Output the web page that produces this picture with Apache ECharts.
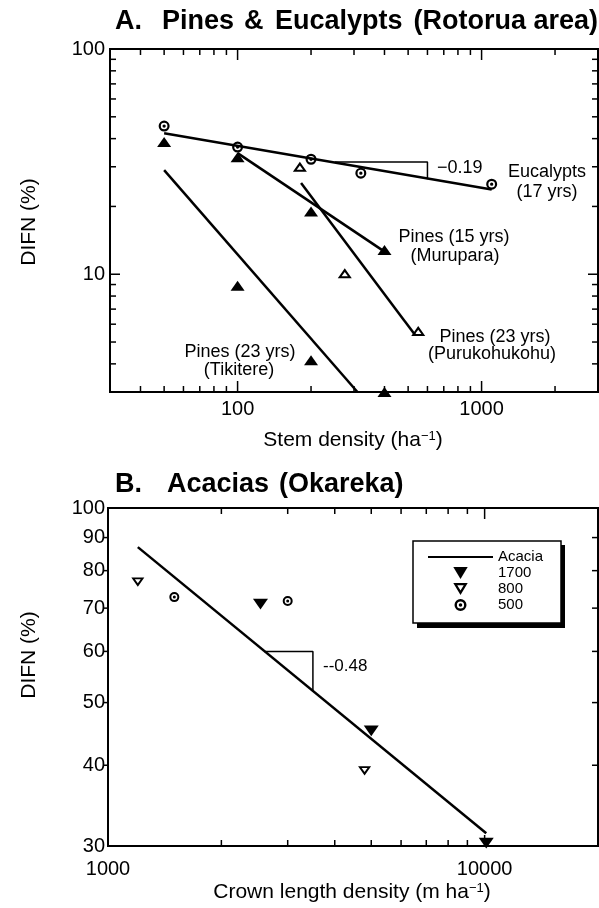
<!DOCTYPE html>
<html>
<head>
<meta charset="utf-8">
<script src="https://cdn.jsdelivr.net/npm/echarts@6/dist/echarts.min.js"></script>
<style>
  html, body { margin: 0; padding: 0; background: #fff; }
  #chart { width: 599px; height: 908px; }
</style>
</head>
<body>
<div id="chart"></div>
<script>
// ---------- Panel A: DIFN vs stem density (log–log) ----------
const eucalyptPts   = [[50, 45.5], [100, 36.7], [200, 32.4], [320, 28.1], [1100, 25.1]];
const eucalyptFit   = [[50, 42.3], [1100, 23.8]];
const eucalyptSlope = [[250, 31.5], [600, 31.5], [600, 26.4]];

const murupara15Pts = [[100, 33.1], [200, 19.0], [400, 12.8]];
const murupara15Fit = [[100, 34.5], [400, 12.6]];

const puruPts = [[180, 30.0], [275, 10.1], [550, 5.6]];
const puruFit = [[182, 25.4], [535, 5.36]];

const tikiterePts = [[50, 38.6], [100, 8.9], [200, 4.15], [400, 3.0]];
const tikitereFit = [[50, 29.0], [310, 3.0]];

const xRangeA = [30, 3000];
const yRangeA = [3, 100];
const xTicksA = [40, 50, 60, 70, 80, 90, 100, 200, 300, 400, 500, 600, 700, 800, 900, 1000, 2000];
const yTicksA = [4, 5, 6, 7, 8, 9, 10, 20, 30, 40, 50, 60, 70, 80, 90];
const xLabelsA = [100, 1000];
const yLabelsA = [10, 100];

// ---------- Panel B: DIFN vs crown length density ----------
const acacia1700 = [[2540, 71.0], [5000, 45.2], [10100, 30.3]];
const acacia800  = [[1200, 76.8], [4800, 39.2]];
const acacia500  = [[1500, 72.8], [3000, 71.8]];
const acaciaFit  = [[1200, 87.0], [10100, 31.4]];
const acaciaSlope = [[2600, 60], [3500, 60], [3500, 52.0]];

const xRangeB = [1000, 20000];
const yRangeB = [30, 100];
const xTicksB = [2000, 3000, 4000, 5000, 6000, 7000, 8000, 9000, 10000];
const yTicksB = [40, 50, 60, 70, 80, 90];
const xLabelsB = [1000, 10000];
const yLabelsB = [30, 40, 50, 60, 70, 80, 90, 100];

const majorTicks = [10, 100, 1000, 10000];

// ---------- styling helpers ----------
const FONT = '"Liberation Sans", Arial, Helvetica, sans-serif';
const TICK = { stroke: '#000', lineWidth: 1.5 };

const SYM_UP      = 'path://M0,10L6,0L12,10Z';
const SYM_UP_OPEN = 'path://M0,10L6,0L12,10ZM3.3,8.1L8.7,8.1L6,3.7Z';
const SYM_DN      = 'path://M0,0L12,0L6,10Z';
const SYM_DN_OPEN = 'path://M0,0L12,0L6,10ZM3.3,1.9L6,6.3L8.7,1.9Z';
const SYM_RING_DOT = 'path://M0,-10A10,10,0,1,1,0,10A10,10,0,1,1,0,-10Z' +
                     'M0,-6A6,6,0,1,0,0,6A6,6,0,1,0,0,-6Z' +
                     'M0,-3A3,3,0,1,1,0,3A3,3,0,1,1,0,-3Z';

function textStyle(text, size, align, extra) {
  return Object.assign({
    text, fontSize: size, fontFamily: FONT, fill: '#000',
    align, textAlign: align, verticalAlign: 'middle', textVerticalAlign: 'middle'
  }, extra || {});
}

function fitLine(idx, name, data, width) {
  return {
    type: 'line', name, xAxisIndex: idx, yAxisIndex: idx, data,
    symbol: 'none', silent: true, z: 2, clip: true,
    lineStyle: { color: '#000', width: width || 2.5 },
    itemStyle: { color: 'rgba(0,0,0,0)', borderColor: 'rgba(0,0,0,0)' }
  };
}

function points(idx, name, data, symbol, size) {
  return {
    type: 'scatter', name, xAxisIndex: idx, yAxisIndex: idx, data,
    symbol, symbolSize: size, symbolKeepAspect: true, clip: false, z: 3,
    itemStyle: { color: '#000', opacity: 1 }
  };
}

// tick marks on the bottom and top frame edges, pointing inwards
function xTickMarks(idx, values, yr) {
  return {
    type: 'custom', xAxisIndex: idx, yAxisIndex: idx, clip: false, silent: true, z: 4,
    data: values.map(v => [v, yr[0]]),
    renderItem: (params, api) => {
      const v = api.value(0);
      const len = majorTicks.indexOf(v) >= 0 ? 11 : 6;
      const b = api.coord([v, yr[0]]);
      const t = api.coord([v, yr[1]]);
      return { type: 'group', children: [
        { type: 'line', shape: { x1: b[0], y1: b[1], x2: b[0], y2: b[1] - len }, style: TICK },
        { type: 'line', shape: { x1: t[0], y1: t[1], x2: t[0], y2: t[1] + len }, style: TICK }
      ]};
    }
  };
}

// tick marks on the left and right frame edges
function yTickMarks(idx, values, xr, leftOutward) {
  return {
    type: 'custom', xAxisIndex: idx, yAxisIndex: idx, clip: false, silent: true, z: 4,
    data: values.map(v => [xr[0], v]),
    renderItem: (params, api) => {
      const v = api.value(1);
      const len = majorTicks.indexOf(v) >= 0 ? 10 : 6;
      const l = api.coord([xr[0], v]);
      const r = api.coord([xr[1], v]);
      const lx = leftOutward ? l[0] - 5 : l[0] + len;
      return { type: 'group', children: [
        { type: 'line', shape: { x1: l[0], y1: l[1], x2: lx, y2: l[1] }, style: TICK },
        { type: 'line', shape: { x1: r[0], y1: r[1], x2: r[0] - len, y2: r[1] }, style: TICK }
      ]};
    }
  };
}

function xTickLabels(idx, values, yr, dy) {
  return {
    type: 'custom', xAxisIndex: idx, yAxisIndex: idx, clip: false, silent: true, z: 4,
    data: values.map(v => [v, yr[0]]),
    renderItem: (params, api) => {
      const c = api.coord([api.value(0), yr[0]]);
      return { type: 'text', x: c[0], y: c[1] + dy,
        style: textStyle(String(values[params.dataIndex]), 20, 'center') };
    }
  };
}

function yTickLabels(idx, values, xr, dx) {
  return {
    type: 'custom', xAxisIndex: idx, yAxisIndex: idx, clip: false, silent: true, z: 4,
    data: values.map(v => [xr[0], v]),
    renderItem: (params, api) => {
      const c = api.coord([xr[0], api.value(1)]);
      return { type: 'text', x: c[0] - dx, y: c[1],
        style: textStyle(String(values[params.dataIndex]), 20, 'right') };
    }
  };
}

function logAxis(idx, range) {
  return {
    type: 'log', logBase: 10, gridIndex: idx, min: range[0], max: range[1],
    axisLine: { show: false }, axisTick: { show: false },
    axisLabel: { show: false }, splitLine: { show: false }, minorTick: { show: false }
  };
}

function label(x, y, text, size, align, extra) {
  return { type: 'text', x, y, z: 10, silent: true, style: textStyle(text, size, align || 'center', extra) };
}

const chart = echarts.init(document.getElementById('chart'), null, { renderer: 'canvas' });

chart.setOption({
  backgroundColor: '#fff',
  animation: false,
  grid: [
    { left: 110, top: 49, width: 488, height: 343, show: true, borderColor: '#000', borderWidth: 2, backgroundColor: 'transparent' },
    { left: 108, top: 508, width: 490, height: 338, show: true, borderColor: '#000', borderWidth: 2, backgroundColor: 'transparent' }
  ],
  xAxis: [logAxis(0, xRangeA), logAxis(1, xRangeB)],
  yAxis: [logAxis(0, yRangeA), logAxis(1, yRangeB)],
  legend: {
    data: ['Acacia', '1700', '800', '500'],
    orient: 'vertical', left: 427, top: 549, z: 10,
    itemWidth: 65, itemHeight: 12, itemGap: 0, padding: 0,
    textStyle: { fontSize: 15, lineHeight: 16, fontFamily: FONT, color: '#000' },
    selectedMode: false
  },
  series: [
    // Panel A
    fitLine(0, 'Eucalypts fit', eucalyptFit),
    fitLine(0, 'Eucalypts slope', eucalyptSlope, 1.5),
    fitLine(0, 'Murupara fit', murupara15Fit),
    fitLine(0, 'Purukohukohu fit', puruFit),
    fitLine(0, 'Tikitere fit', tikitereFit),
    points(0, 'Eucalypts (17 yrs)', eucalyptPts, SYM_RING_DOT, 11),
    points(0, 'Pines (15 yrs) Murupara', murupara15Pts, SYM_UP, [14, 12]),
    points(0, 'Pines (23 yrs) Purukohukohu', puruPts, SYM_UP_OPEN, [14, 12]),
    points(0, 'Pines (23 yrs) Tikitere', tikiterePts, SYM_UP, [14, 12]),
    xTickMarks(0, xTicksA, yRangeA),
    yTickMarks(0, yTicksA, xRangeA, false),
    xTickLabels(0, xLabelsA, yRangeA, 17),
    yTickLabels(0, yLabelsA, xRangeA, 5),
    // Panel B
    fitLine(1, 'Acacia', acaciaFit),
    fitLine(1, 'Acacia slope', acaciaSlope, 1.5),
    points(1, '1700', acacia1700, SYM_DN, [15, 13]),
    points(1, '800', acacia800, SYM_DN_OPEN, [13, 11]),
    points(1, '500', acacia500, SYM_RING_DOT, 10),
    xTickMarks(1, xTicksB, yRangeB),
    yTickMarks(1, yTicksB, xRangeB, true),
    xTickLabels(1, xLabelsB, yRangeB, 23),
    yTickLabels(1, yLabelsB, xRangeB, 3)
  ],
  graphic: [
    // panel titles
    label(115, 22, 'A.', 27, 'left', { fontWeight: 'bold' }),
    label(162, 22, 'Pines', 27, 'left', { fontWeight: 'bold' }),
    label(244, 22, '&', 27, 'left', { fontWeight: 'bold' }),
    label(275, 22, 'Eucalypts', 27, 'left', { fontWeight: 'bold' }),
    label(598, 22, '(Rotorua area)', 27, 'right', { fontWeight: 'bold' }),
    label(115, 485, 'B.', 27, 'left', { fontWeight: 'bold' }),
    label(167, 485, 'Acacias', 27, 'left', { fontWeight: 'bold' }),
    label(279, 485, '(Okareka)', 27, 'left', { fontWeight: 'bold' }),

    // legend frame with offset drop shadow
    { type: 'rect', z: 0, silent: true, shape: { x: 417, y: 545, width: 148, height: 83 },
      style: { fill: '#000' } },
    { type: 'rect', z: 1, silent: true, shape: { x: 413, y: 541, width: 148, height: 82 },
      style: { fill: '#fff', stroke: '#000', lineWidth: 1.5 } },

    // axis titles
    { type: 'text', x: 29, y: 222, rotation: Math.PI / 2, silent: true,
      style: textStyle('DIFN (%)', 21, 'center') },
    { type: 'text', x: 29, y: 655, rotation: Math.PI / 2, silent: true,
      style: textStyle('DIFN (%)', 21, 'center') },
    { type: 'text', x: 353, y: 440, silent: true,
      style: textStyle('Stem density (ha{s|−1})', 21, 'center',
        { rich: { s: { fontSize: 13, fontFamily: FONT, verticalAlign: 'top' } } }) },
    { type: 'text', x: 352, y: 892, silent: true,
      style: textStyle('Crown length density (m ha{s|−1})', 21, 'center',
        { rich: { s: { fontSize: 13, fontFamily: FONT, verticalAlign: 'top' } } }) },

    // panel A annotations
    label(437, 168, '−0.19', 18, 'left'),
    label(547, 172, 'Eucalypts', 18),
    label(547, 192, '(17 yrs)', 18),
    label(454, 237, 'Pines (15 yrs)', 18),
    label(455, 256, '(Murupara)', 18),
    label(495, 337, 'Pines (23 yrs)', 18),
    label(492, 354, '(Purukohukohu)', 18),
    label(240, 352, 'Pines (23 yrs)', 18),
    label(239, 370, '(Tikitere)', 18),

    // panel B annotation
    label(323, 666, '--0.48', 17, 'left')
  ]
});
</script>
</body>
</html>
